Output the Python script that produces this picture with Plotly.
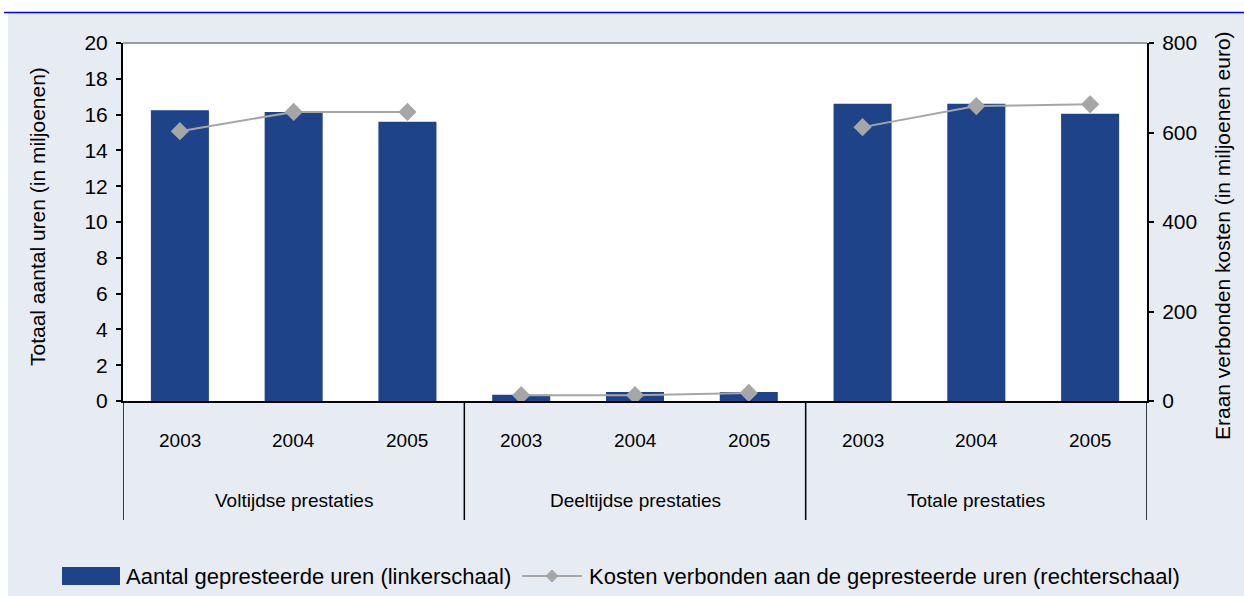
import plotly.graph_objects as go

groups = ["Voltijdse prestaties", "Deeltijdse prestaties", "Totale prestaties"]
years = ["2003", "2004", "2005"]
uren = [16.25, 16.15, 15.6, 0.35, 0.5, 0.5, 16.6, 16.6, 16.05]
kosten = [603, 646, 646, 13, 13, 18, 612, 659, 663]
series_names = ["Aantal gepresteerde uren (linkerschaal)",
                "Kosten verbonden aan de gepresteerde uren (rechterschaal)"]

labels = [f"{g}|{y}" for g in groups for y in years]
xpos = list(range(len(labels)))
n = len(years)

BAR = "#1F4388"
LINE = "#A6A6A6"
BG = "#E7ECF3"
FONT = "Liberation Sans, Arial, sans-serif"

fig = go.Figure()
fig.add_trace(go.Bar(
    x=xpos, y=uren, name=series_names[0],
    marker=dict(color=BAR, line=dict(width=0)), yaxis="y", showlegend=False,
))
for gi in range(len(groups)):
    fig.add_trace(go.Scatter(
        x=xpos[gi * n:(gi + 1) * n], y=kosten[gi * n:(gi + 1) * n], name=series_names[1],
        mode="lines+markers", line=dict(color=LINE, width=2),
        marker=dict(symbol="diamond", size=14, color=LINE), yaxis="y2", showlegend=False,
    ))

W, H = 1244, 596
L, R, T, B = 123, 1147, 43, 401
pw, ph = R - L, B - T

def px2x(p):
    return (p - L) / pw

def py2y(p):
    return (B - p) / ph

shapes = []
shapes.append(dict(type="rect", xref="paper", yref="paper", x0=px2x(0), x1=px2x(W),
                   y0=py2y(12), y1=py2y(0), fillcolor="white", line=dict(width=0), layer="below"))
shapes.append(dict(type="rect", xref="paper", yref="paper", x0=px2x(0), x1=px2x(8),
                   y0=py2y(H), y1=py2y(0), fillcolor="white", line=dict(width=0), layer="below"))
shapes.append(dict(type="line", xref="paper", yref="paper", x0=px2x(4), x1=px2x(W),
                   y0=py2y(12.5), y1=py2y(12.5), line=dict(color="#0000FF", width=1.5)))
shapes.append(dict(type="line", xref="paper", yref="paper", x0=0, x1=1, y0=1, y1=1,
                   line=dict(color="#808080", width=1.5)))
for i in range(len(groups) + 1):
    xv = i * n - 0.5
    shapes.append(dict(type="line", xref="x", yref="paper", x0=xv, x1=xv,
                       y0=0, y1=py2y(520), line=dict(color="black", width=1.5)))

# manual legend
ly = 576
shapes.append(dict(type="rect", xref="paper", yref="paper", x0=px2x(62), x1=px2x(120),
                   y0=py2y(585), y1=py2y(567), fillcolor=BAR, line=dict(width=0)))
shapes.append(dict(type="line", xref="paper", yref="paper", x0=px2x(522), x1=px2x(582),
                   y0=py2y(ly), y1=py2y(ly), line=dict(color=LINE, width=2)))
cx, r = 552, 6.5
shapes.append(dict(type="path", xref="paper", yref="paper",
                   path=(f"M {px2x(cx - r)} {py2y(ly)} L {px2x(cx)} {py2y(ly - r)} "
                         f"L {px2x(cx + r)} {py2y(ly)} L {px2x(cx)} {py2y(ly + r)} Z"),
                   fillcolor=LINE, line=dict(width=0)))

def ann(x, y, text, size, xref="paper", xanchor="center", angle=0):
    return dict(x=x, y=y, xref=xref, yref="paper", text=text, showarrow=False,
                xanchor=xanchor, yanchor="middle", textangle=angle,
                font=dict(family=FONT, size=size, color="black"))

annotations = []
for i, lab in enumerate(labels):
    annotations.append(ann(xpos[i], py2y(440), lab.split("|")[1], 19, xref="x"))
for gi, g in enumerate(groups):
    annotations.append(ann(gi * n + (n - 1) / 2, py2y(500), g, 19, xref="x"))
annotations.append(ann(px2x(37), py2y(217), "Totaal aantal uren (in miljoenen)", 21, angle=-90))
annotations.append(ann(px2x(1222), py2y(236), "Eraan verbonden kosten (in miljoenen euro)", 21, angle=-90))
annotations.append(ann(px2x(124), py2y(ly), series_names[0], 22, xanchor="left"))
annotations.append(ann(px2x(587), py2y(ly), series_names[1], 22, xanchor="left"))

fig.update_layout(
    width=W, height=H,
    margin=dict(l=L, r=W - R, t=T, b=H - B),
    paper_bgcolor=BG, plot_bgcolor="white",
    bargap=0.49,
    showlegend=False,
    xaxis=dict(range=[-0.5, len(labels) - 0.5], showticklabels=False, ticks="",
               showline=True, linecolor="black", linewidth=2, showgrid=False, zeroline=False),
    yaxis=dict(range=[0, 20], dtick=2, ticks="outside", ticklen=5, tickwidth=1.5, tickcolor="black",
               showline=True, linecolor="black", linewidth=2, showgrid=False, zeroline=False,
               ticklabelstandoff=4,
               tickfont=dict(family=FONT, size=21, color="black")),
    yaxis2=dict(range=[0, 800], dtick=200, overlaying="y", side="right", ticks="outside", ticklen=5,
                tickwidth=1.5, tickcolor="black", showline=True, linecolor="black", linewidth=2,
                ticklabelstandoff=4,
                showgrid=False, zeroline=False, tickfont=dict(family=FONT, size=21, color="black")),
    shapes=shapes, annotations=annotations,
    font=dict(family=FONT, color="black"),
)

fig.write_html("out.html", config={"displayModeBar": False},
               post_script="document.body.style.margin='0';")
